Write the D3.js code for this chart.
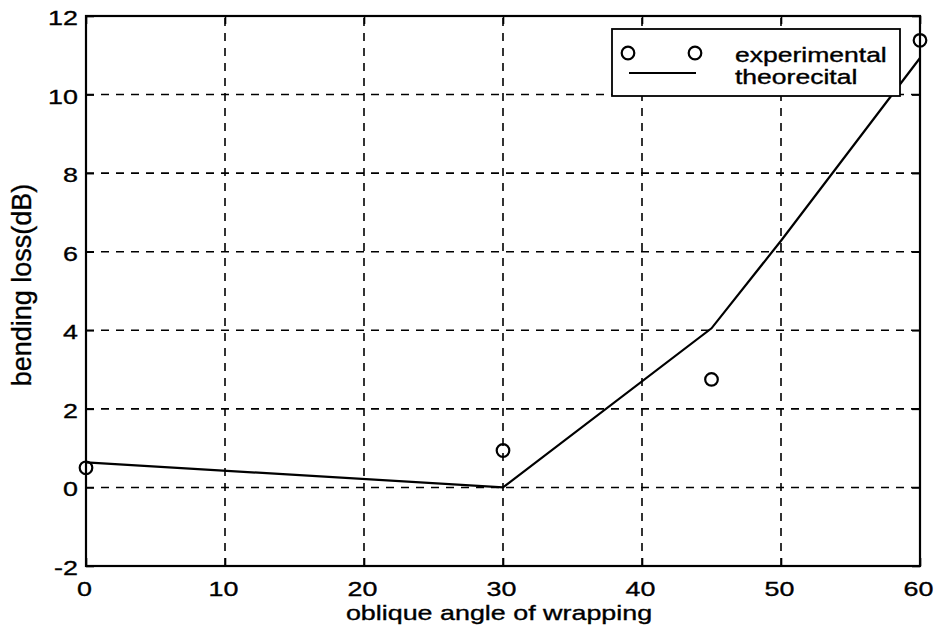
<!DOCTYPE html>
<html>
<head>
<meta charset="utf-8">
<script src="https://cdn.jsdelivr.net/npm/d3@7"></script>
<style>
  html, body { margin: 0; padding: 0; background: #fff; }
  text { font-family: "Liberation Sans", Arial, sans-serif; fill: #000; stroke: #000; stroke-width: 0.35px; }
</style>
</head>
<body>
<svg id="chart" width="936" height="639"></svg>
<script>
// ---- data ----
const expAngles = [0, 30, 45, 60];
const expLoss   = [0.5, 0.94, 2.75, 11.38];
const theoAngles = [0, 30, 45, 50, 60];
const theoLoss   = [0.64, 0.0, 4.05, 6.28, 10.93];
const xTicks = [0, 10, 20, 30, 40, 50, 60];
const yTicks = [-2, 0, 2, 4, 6, 8, 10, 12];
const legendLabels = ["experimental", "theorecital"];
const xLabel = "oblique angle of wrapping";
const yLabel = "bending loss(dB)";

// ---- layout ----
const L = 86, R = 920, T = 16, B = 566;
const SX = 1.28; // horizontal stretch of the scanned text
const svg = d3.select("#chart");

const x = d3.scaleLinear().domain([0, 60]).range([L, R]);
const y = d3.scaleLinear().domain([-2, 12]).range([B, T]);

// grid
const grid = svg.append("g").attr("stroke", "#000").attr("stroke-width", 1.6)
  .attr("stroke-dasharray", "8,7").attr("fill", "none");
grid.selectAll("line.gx").data(xTicks.filter(d => d > 0 && d < 60)).enter().append("line")
  .attr("x1", d => x(d)).attr("x2", d => x(d)).attr("y1", B).attr("y2", T);
grid.selectAll("line.gy").data(yTicks.filter(d => d > -2 && d < 12)).enter().append("line")
  .attr("x1", L).attr("x2", R).attr("y1", d => y(d)).attr("y2", d => y(d));

// axes (ticks inward)
const tickLen = 8;
const fmt = d => String(d);
const xAxis = svg.append("g").attr("transform", `translate(0,${B})`)
  .call(d3.axisBottom(x).tickValues(xTicks).tickSize(-tickLen).tickPadding(0).tickFormat(fmt));
const xAxisTop = svg.append("g").attr("transform", `translate(0,${T})`)
  .call(d3.axisTop(x).tickValues(xTicks).tickSize(-tickLen).tickFormat(""));
const yAxis = svg.append("g").attr("transform", `translate(${L},0)`)
  .call(d3.axisLeft(y).tickValues(yTicks).tickSize(-tickLen).tickFormat(fmt));
const yAxisR = svg.append("g").attr("transform", `translate(${R},0)`)
  .call(d3.axisRight(y).tickValues(yTicks).tickSize(-tickLen).tickFormat(""));

[xAxis, xAxisTop, yAxis, yAxisR].forEach(g => {
  g.select(".domain").remove();
  g.selectAll(".tick line").attr("stroke", "#000").attr("stroke-width", 1.6);
});
xAxis.selectAll(".tick text")
  .attr("font-size", 21).attr("font-family", "'Liberation Sans', Arial, sans-serif")
  .attr("fill", "#000").attr("y", 0).attr("dy", 0)
  .attr("transform", `translate(-2,30) scale(${SX},1)`);
yAxis.selectAll(".tick text")
  .attr("font-size", 21).attr("font-family", "'Liberation Sans', Arial, sans-serif")
  .attr("fill", "#000").attr("x", 0).attr("dy", "0.36em")
  .attr("transform", `translate(-8,1) scale(${SX},1)`);

// frame
svg.append("rect").attr("x", L).attr("y", T).attr("width", R - L).attr("height", B - T)
  .attr("fill", "none").attr("stroke", "#000").attr("stroke-width", 2.2);

// theoretical line
const line = d3.line().x(d => x(d[0])).y(d => y(d[1]));
svg.append("path").datum(theoAngles.map((a, i) => [a, theoLoss[i]]))
  .attr("d", line).attr("fill", "none").attr("stroke", "#000").attr("stroke-width", 2.2);

// experimental markers
svg.selectAll("circle.exp").data(expAngles.map((a, i) => [a, expLoss[i]])).enter().append("circle")
  .attr("cx", d => x(d[0])).attr("cy", d => y(d[1])).attr("r", 6.3)
  .attr("fill", "none").attr("stroke", "#000").attr("stroke-width", 2.2);

// axis labels
svg.append("g").attr("transform", `translate(${(L + R) / 2 - 4},620) scale(${SX},1)`)
  .append("text").attr("text-anchor", "middle").attr("font-size", 21).text(xLabel);
svg.append("text").attr("transform", `translate(31,${(T + B) / 2 - 6}) rotate(-90)`)
  .attr("text-anchor", "middle").attr("font-size", 27).text(yLabel);

// legend
const lg = svg.append("g");
lg.append("rect").attr("x", 612).attr("y", 29).attr("width", 288).attr("height", 67)
  .attr("fill", "#fff").attr("stroke", "#000").attr("stroke-width", 1.8);
lg.selectAll("circle").data([628, 695]).enter().append("circle")
  .attr("cx", d => d).attr("cy", 53).attr("r", 6.3)
  .attr("fill", "none").attr("stroke", "#000").attr("stroke-width", 2.2);
lg.append("line").attr("x1", 629).attr("x2", 696).attr("y1", 73).attr("y2", 73)
  .attr("stroke", "#000").attr("stroke-width", 2.2);
lg.selectAll("g.lt").data(legendLabels).enter().append("g")
  .attr("transform", (d, i) => `translate(735,${62 + i * 22}) scale(1.36,1)`)
  .append("text").attr("font-size", 19.5).text(d => d);
</script>
</body>
</html>
